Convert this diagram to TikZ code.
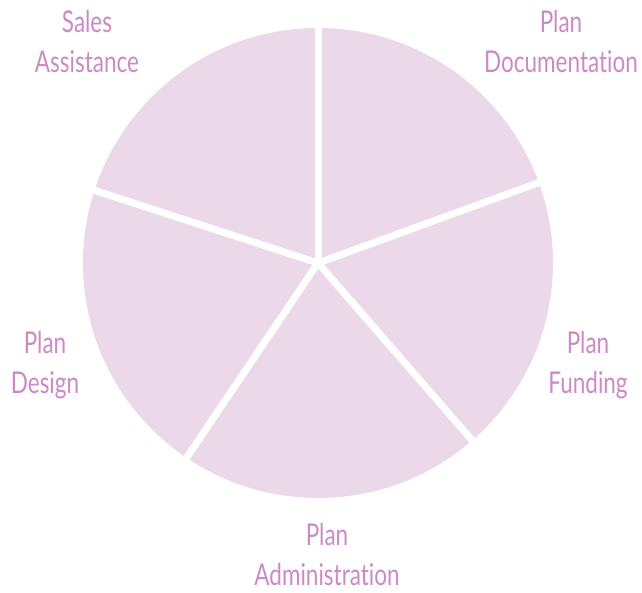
\documentclass[tikz,border=0pt]{standalone}
\usepackage{fontspec}
\setmainfont{Lato}[Ligatures={NoCommon}]
\usetikzlibrary{positioning}
\definecolor{slicefill}{HTML}{EBD9EA}
\definecolor{labeltext}{HTML}{CB8AC5}

\begin{document}
\begin{tikzpicture}[x=1pt,y=1pt,
    gap/.style={draw=white, line width=7pt},
    sectorlabel/.style={text=labeltext, align=center, inner sep=0pt,
        font=\addfontfeature{FakeStretch=0.75}\fontsize{30}{40}\selectfont}]
    \useasboundingbox (0,0) rectangle (642,592);

    % PIE
    \coordinate (c) at (318,329);
    \fill[slicefill] (c) circle (235);
    \foreach \a in {90,20,-49,-124,162}
        \draw[gap] (c) -- ++(\a:245);

    % LABELS
    \node[sectorlabel] (sales) at (87,550) {Sales\\Assistance};
    \node[sectorlabel] (docu) at (561,550) {Plan\\Documentation};
    \node[sectorlabel] (fund) at (588,227) {Plan\\Funding};
    \node[sectorlabel] (design) at (45,227) {Plan\\Design};
    \node[sectorlabel] (admin) at (327,37) {Plan\\Administration};
\end{tikzpicture}
\end{document}
